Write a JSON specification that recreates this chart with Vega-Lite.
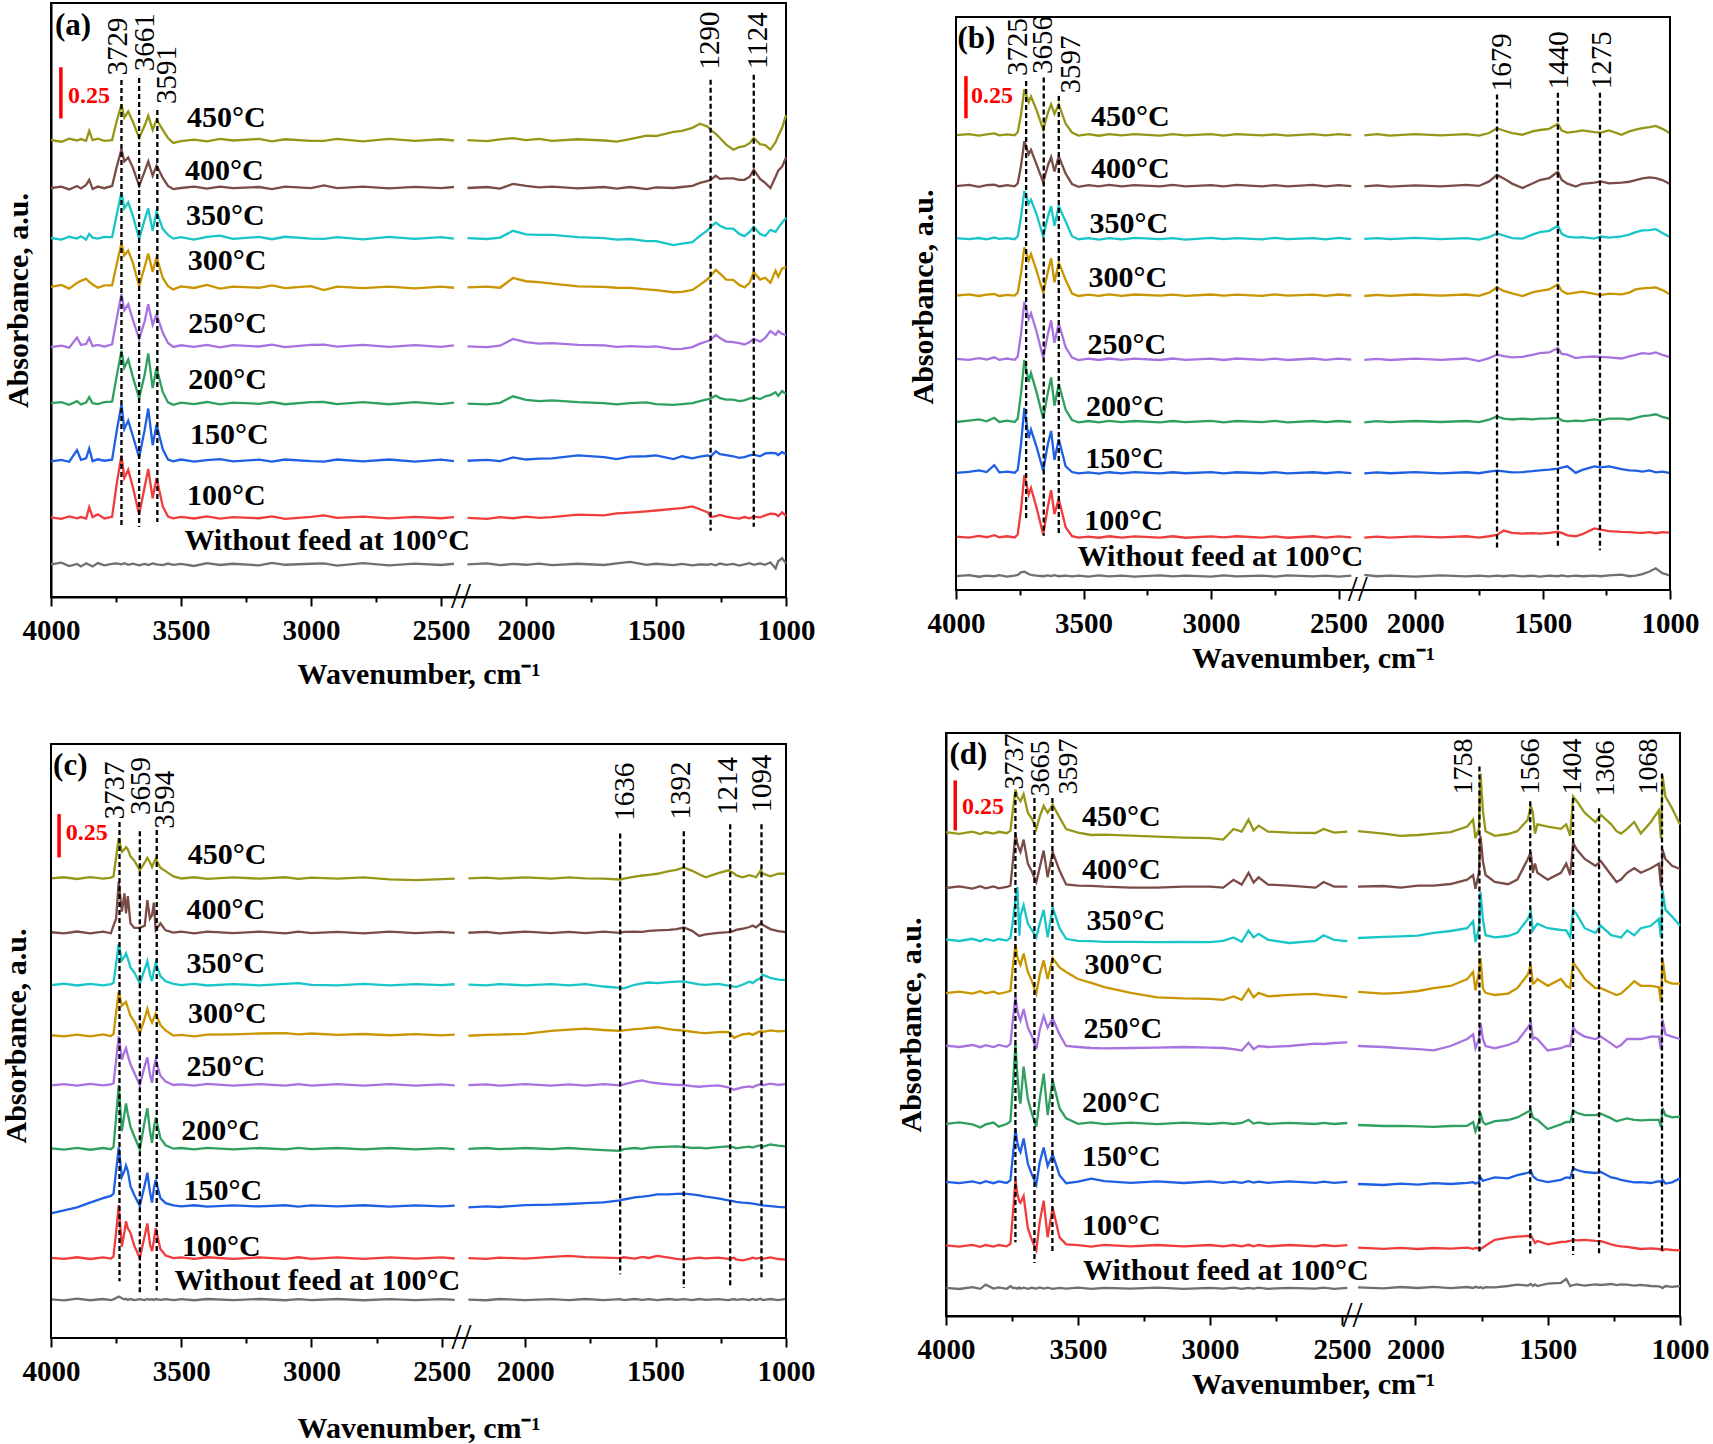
{
"$schema": "https://vega.github.io/schema/vega-lite/v6.json",
"background": "white",
"padding": {"left": 1, "top": 2, "right": 5, "bottom": 5},
"config": {
  "font": "Liberation Serif",
  "view": {"stroke": "black", "strokeWidth": 2},
  "axis": {"grid": false, "domainColor": "black", "domainWidth": 2, "tickColor": "black", "tickWidth": 2,
           "labelFont": "Liberation Serif", "labelFontSize": 29, "labelFontWeight": "bold", "labelColor": "black",
           "titleFont": "Liberation Serif", "titleFontSize": 30, "titleFontWeight": "bold", "titleColor": "black"}
},
"datasets": {
"a": [
{"x":4000,"seg":"L","w":0.160,"t100":0.390,"t150":0.665,"t200":0.950,"t250":1.225,"t300":1.520,"t350":1.760,"t400":2.005,"t450":2.240},
{"x":3960,"seg":"L","w":0.168,"t100":0.383,"t150":0.672,"t200":0.955,"t250":1.232,"t300":1.530,"t350":1.752,"t400":2.012,"t450":2.232},
{"x":3930,"seg":"L","w":0.152,"t100":0.395,"t150":0.663,"t200":0.942,"t250":1.222,"t300":1.512,"t350":1.766,"t400":1.998,"t450":2.247},
{"x":3900,"seg":"L","w":0.162,"t100":0.386,"t150":0.720,"t200":0.960,"t250":1.272,"t300":1.540,"t350":1.757,"t400":2.015,"t450":2.238},
{"x":3885,"seg":"L","w":0.150,"t100":0.392,"t150":0.672,"t200":0.944,"t250":1.236,"t300":1.550,"t350":1.768,"t400":2.003,"t450":2.245},
{"x":3865,"seg":"L","w":0.165,"t100":0.384,"t150":0.680,"t200":0.953,"t250":1.240,"t300":1.560,"t350":1.752,"t400":2.020,"t450":2.236},
{"x":3853,"seg":"L","w":0.158,"t100":0.440,"t150":0.728,"t200":0.980,"t250":1.270,"t300":1.545,"t350":1.780,"t400":2.045,"t450":2.285},
{"x":3840,"seg":"L","w":0.150,"t100":0.392,"t150":0.666,"t200":0.950,"t250":1.230,"t300":1.532,"t350":1.762,"t400":2.000,"t450":2.240},
{"x":3820,"seg":"L","w":0.166,"t100":0.405,"t150":0.675,"t200":0.946,"t250":1.236,"t300":1.516,"t350":1.757,"t400":2.012,"t450":2.247},
{"x":3795,"seg":"L","w":0.155,"t100":0.385,"t150":0.668,"t200":0.955,"t250":1.228,"t300":1.528,"t350":1.765,"t400":2.004,"t450":2.236},
{"x":3765,"seg":"L","w":0.162,"t100":0.393,"t150":0.673,"t200":0.958,"t250":1.239,"t300":1.528,"t350":1.764,"t400":2.015,"t450":2.240},
{"x":3748,"seg":"L","w":0.165,"t100":0.548,"t150":0.808,"t200":1.078,"t250":1.359,"t300":1.628,"t350":1.869,"t400":2.105,"t450":2.330},
{"x":3729,"seg":"L","w":0.160,"t100":0.694,"t150":0.944,"t200":1.208,"t250":1.485,"t300":1.734,"t350":1.985,"t400":2.195,"t450":2.414},
{"x":3718,"seg":"L","w":0.166,"t100":0.584,"t150":0.824,"t200":1.124,"t250":1.405,"t300":1.674,"t350":1.905,"t400":2.135,"t450":2.350},
{"x":3703,"seg":"L","w":0.158,"t100":0.624,"t150":0.864,"t200":1.164,"t250":1.435,"t300":1.698,"t350":1.935,"t400":2.155,"t450":2.380},
{"x":3685,"seg":"L","w":0.163,"t100":0.538,"t150":0.788,"t200":1.078,"t250":1.359,"t300":1.638,"t350":1.869,"t400":2.105,"t450":2.330},
{"x":3661,"seg":"L","w":0.155,"t100":0.404,"t150":0.684,"t200":0.974,"t250":1.265,"t300":1.524,"t350":1.755,"t400":2.015,"t450":2.250},
{"x":3640,"seg":"L","w":0.162,"t100":0.538,"t150":0.818,"t200":1.088,"t250":1.349,"t300":1.618,"t350":1.849,"t400":2.085,"t450":2.310},
{"x":3626,"seg":"L","w":0.157,"t100":0.628,"t150":0.924,"t200":1.194,"t250":1.435,"t300":1.684,"t350":1.905,"t400":2.135,"t450":2.360},
{"x":3609,"seg":"L","w":0.165,"t100":0.484,"t150":0.744,"t200":1.024,"t250":1.335,"t300":1.594,"t350":1.795,"t400":2.065,"t450":2.290},
{"x":3594,"seg":"L","w":0.160,"t100":0.584,"t150":0.844,"t200":1.124,"t250":1.385,"t300":1.668,"t350":1.889,"t400":2.115,"t450":2.340},
{"x":3570,"seg":"L","w":0.156,"t100":0.444,"t150":0.724,"t200":1.004,"t250":1.295,"t300":1.564,"t350":1.805,"t400":2.055,"t450":2.290},
{"x":3550,"seg":"L","w":0.164,"t100":0.394,"t150":0.674,"t200":0.954,"t250":1.245,"t300":1.524,"t350":1.775,"t400":2.015,"t450":2.250},
{"x":3530,"seg":"L","w":0.158,"t100":0.386,"t150":0.665,"t200":0.942,"t250":1.226,"t300":1.508,"t350":1.757,"t400":2.000,"t450":2.226},
{"x":3500,"seg":"L","w":0.162,"t100":0.393,"t150":0.674,"t200":0.953,"t250":1.234,"t300":1.523,"t350":1.764,"t400":2.005,"t450":2.235},
{"x":3450,"seg":"L","w":0.152,"t100":0.385,"t150":0.664,"t200":0.946,"t250":1.226,"t300":1.515,"t350":1.752,"t400":2.012,"t450":2.242},
{"x":3400,"seg":"L","w":0.166,"t100":0.395,"t150":0.671,"t200":0.956,"t250":1.236,"t300":1.530,"t350":1.766,"t400":2.002,"t450":2.234},
{"x":3350,"seg":"L","w":0.157,"t100":0.384,"t150":0.676,"t200":0.944,"t250":1.224,"t300":1.512,"t350":1.772,"t400":2.012,"t450":2.246},
{"x":3300,"seg":"L","w":0.163,"t100":0.392,"t150":0.665,"t200":0.953,"t250":1.235,"t300":1.522,"t350":1.756,"t400":2.004,"t450":2.238},
{"x":3200,"seg":"L","w":0.155,"t100":0.386,"t150":0.673,"t200":0.947,"t250":1.228,"t300":1.516,"t350":1.765,"t400":2.010,"t450":2.246},
{"x":3150,"seg":"L","w":0.167,"t100":0.395,"t150":0.664,"t200":0.956,"t250":1.237,"t300":1.528,"t350":1.754,"t400":2.000,"t450":2.234},
{"x":3100,"seg":"L","w":0.158,"t100":0.383,"t150":0.674,"t200":0.945,"t250":1.225,"t300":1.514,"t350":1.766,"t400":2.012,"t450":2.244},
{"x":3000,"seg":"L","w":0.163,"t100":0.393,"t150":0.666,"t200":0.955,"t250":1.236,"t300":1.524,"t350":1.757,"t400":2.004,"t450":2.236},
{"x":2950,"seg":"L","w":0.165,"t100":0.400,"t150":0.664,"t200":0.956,"t250":1.237,"t300":1.505,"t350":1.756,"t400":2.018,"t450":2.236},
{"x":2900,"seg":"L","w":0.154,"t100":0.388,"t150":0.674,"t200":0.946,"t250":1.227,"t300":1.522,"t350":1.764,"t400":2.004,"t450":2.246},
{"x":2800,"seg":"L","w":0.166,"t100":0.394,"t150":0.665,"t200":0.955,"t250":1.236,"t300":1.514,"t350":1.753,"t400":2.012,"t450":2.234},
{"x":2700,"seg":"L","w":0.155,"t100":0.385,"t150":0.674,"t200":0.945,"t250":1.226,"t300":1.522,"t350":1.765,"t400":2.003,"t450":2.246},
{"x":2600,"seg":"L","w":0.164,"t100":0.393,"t150":0.664,"t200":0.955,"t250":1.235,"t300":1.513,"t350":1.756,"t400":2.011,"t450":2.236},
{"x":2500,"seg":"L","w":0.157,"t100":0.386,"t150":0.673,"t200":0.946,"t250":1.226,"t300":1.522,"t350":1.764,"t400":2.004,"t450":2.244},
{"x":2450,"seg":"L","w":0.163,"t100":0.392,"t150":0.666,"t200":0.953,"t250":1.234,"t300":1.516,"t350":1.757,"t400":2.010,"t450":2.238},
{"x":2225,"seg":"R","w":0.160,"t100":0.388,"t150":0.668,"t200":0.948,"t250":1.229,"t300":1.518,"t350":1.759,"t400":2.005,"t450":2.240},
{"x":2150,"seg":"R","w":0.165,"t100":0.383,"t150":0.672,"t200":0.944,"t250":1.225,"t300":1.522,"t350":1.755,"t400":2.010,"t450":2.235},
{"x":2100,"seg":"R","w":0.156,"t100":0.392,"t150":0.666,"t200":0.952,"t250":1.232,"t300":1.516,"t350":1.762,"t400":2.002,"t450":2.243},
{"x":2050,"seg":"R","w":0.162,"t100":0.386,"t150":0.684,"t200":0.984,"t250":1.265,"t300":1.564,"t350":1.795,"t400":2.025,"t450":2.250},
{"x":2000,"seg":"R","w":0.158,"t100":0.394,"t150":0.674,"t200":0.966,"t250":1.250,"t300":1.548,"t350":1.778,"t400":2.015,"t450":2.240},
{"x":1950,"seg":"R","w":0.164,"t100":0.388,"t150":0.678,"t200":0.960,"t250":1.242,"t300":1.544,"t350":1.775,"t400":2.008,"t450":2.246},
{"x":1900,"seg":"R","w":0.156,"t100":0.392,"t150":0.680,"t200":0.964,"t250":1.245,"t300":1.536,"t350":1.775,"t400":2.012,"t450":2.236},
{"x":1800,"seg":"R","w":0.163,"t100":0.404,"t150":0.694,"t200":0.955,"t250":1.236,"t300":1.523,"t350":1.764,"t400":2.003,"t450":2.244},
{"x":1700,"seg":"R","w":0.157,"t100":0.400,"t150":0.686,"t200":0.950,"t250":1.234,"t300":1.520,"t350":1.759,"t400":2.010,"t450":2.238},
{"x":1651,"seg":"R","w":0.165,"t100":0.410,"t150":0.676,"t200":0.944,"t250":1.226,"t300":1.516,"t350":1.752,"t400":2.002,"t450":2.232},
{"x":1600,"seg":"R","w":0.172,"t100":0.414,"t150":0.688,"t200":0.950,"t250":1.230,"t300":1.515,"t350":1.755,"t400":2.010,"t450":2.245},
{"x":1536,"seg":"R","w":0.158,"t100":0.420,"t150":0.690,"t200":0.954,"t250":1.226,"t300":1.508,"t350":1.745,"t400":2.000,"t450":2.262},
{"x":1500,"seg":"R","w":0.163,"t100":0.424,"t150":0.694,"t200":0.946,"t250":1.229,"t300":1.504,"t350":1.745,"t400":2.008,"t450":2.260},
{"x":1433,"seg":"R","w":0.156,"t100":0.432,"t150":0.676,"t200":0.942,"t250":1.215,"t300":1.494,"t350":1.725,"t400":2.005,"t450":2.280},
{"x":1400,"seg":"R","w":0.162,"t100":0.436,"t150":0.690,"t200":0.946,"t250":1.216,"t300":1.496,"t350":1.732,"t400":2.010,"t450":2.285},
{"x":1360,"seg":"R","w":0.155,"t100":0.444,"t150":0.680,"t200":0.950,"t250":1.225,"t300":1.505,"t350":1.740,"t400":2.016,"t450":2.300},
{"x":1331,"seg":"R","w":0.160,"t100":0.430,"t150":0.688,"t200":0.960,"t250":1.242,"t300":1.530,"t350":1.770,"t400":2.030,"t450":2.320},
{"x":1300,"seg":"R","w":0.158,"t100":0.414,"t150":0.694,"t200":0.970,"t250":1.255,"t300":1.560,"t350":1.800,"t400":2.040,"t450":2.305},
{"x":1290,"seg":"R","w":0.162,"t100":0.392,"t150":0.688,"t200":0.974,"t250":1.260,"t300":1.574,"t350":1.815,"t400":2.045,"t450":2.290},
{"x":1270,"seg":"R","w":0.155,"t100":0.396,"t150":0.714,"t200":0.988,"t250":1.285,"t300":1.604,"t350":1.835,"t400":2.065,"t450":2.270},
{"x":1254,"seg":"R","w":0.164,"t100":0.402,"t150":0.700,"t200":0.975,"t250":1.270,"t300":1.585,"t350":1.820,"t400":2.050,"t450":2.250},
{"x":1230,"seg":"R","w":0.158,"t100":0.394,"t150":0.696,"t200":0.968,"t250":1.252,"t300":1.556,"t350":1.806,"t400":2.052,"t450":2.218},
{"x":1203,"seg":"R","w":0.162,"t100":0.388,"t150":0.690,"t200":0.968,"t250":1.249,"t300":1.555,"t350":1.806,"t400":2.052,"t450":2.193},
{"x":1180,"seg":"R","w":0.154,"t100":0.384,"t150":0.682,"t200":0.960,"t250":1.245,"t300":1.530,"t350":1.780,"t400":2.045,"t450":2.205},
{"x":1160,"seg":"R","w":0.160,"t100":0.392,"t150":0.686,"t200":0.964,"t250":1.238,"t300":1.518,"t350":1.769,"t400":2.045,"t450":2.210},
{"x":1140,"seg":"R","w":0.166,"t100":0.386,"t150":0.694,"t200":0.974,"t250":1.250,"t300":1.540,"t350":1.790,"t400":2.060,"t450":2.225},
{"x":1124,"seg":"R","w":0.158,"t100":0.394,"t150":0.698,"t200":0.978,"t250":1.266,"t300":1.593,"t350":1.815,"t400":2.095,"t450":2.250},
{"x":1100,"seg":"R","w":0.165,"t100":0.390,"t150":0.690,"t200":0.970,"t250":1.252,"t300":1.556,"t350":1.780,"t400":2.050,"t450":2.220},
{"x":1080,"seg":"R","w":0.158,"t100":0.400,"t150":0.704,"t200":0.984,"t250":1.270,"t300":1.565,"t350":1.770,"t400":2.030,"t450":2.215},
{"x":1060,"seg":"R","w":0.170,"t100":0.408,"t150":0.706,"t200":0.990,"t250":1.304,"t300":1.540,"t350":1.800,"t400":2.005,"t450":2.193},
{"x":1040,"seg":"R","w":0.140,"t100":0.406,"t150":0.705,"t200":1.004,"t250":1.285,"t300":1.600,"t350":1.790,"t400":2.060,"t450":2.230},
{"x":1030,"seg":"R","w":0.175,"t100":0.396,"t150":0.696,"t200":0.986,"t250":1.304,"t300":1.570,"t350":1.810,"t400":2.090,"t450":2.260},
{"x":1015,"seg":"R","w":0.190,"t100":0.415,"t150":0.710,"t200":1.010,"t250":1.290,"t300":1.610,"t350":1.835,"t400":2.110,"t450":2.300},
{"x":1000,"seg":"R","w":0.165,"t100":0.398,"t150":0.700,"t200":0.995,"t250":1.285,"t300":1.618,"t350":1.859,"t400":2.155,"t450":2.362}
],
"a_rules": [
{"kind":"peak","x":3729,"y":2.534,"y2":0.353},
{"kind":"peak","x":3661,"y":2.544,"y2":0.343},
{"kind":"peak","x":3591,"y":2.387,"y2":0.368},
{"kind":"peak","x":1290,"y":2.536,"y2":0.325},
{"kind":"peak","x":1124,"y":2.56,"y2":0.344},
{"kind":"bar","x":3962,"y":2.597,"y2":2.346}
],
"a_txt": [
{"kind":"temp","x":3477,"y":2.348,"label":"450°C"},
{"kind":"temp","x":3485,"y":2.088,"label":"400°C"},
{"kind":"temp","x":3481,"y":1.868,"label":"350°C"},
{"kind":"temp","x":3474,"y":1.647,"label":"300°C"},
{"kind":"temp","x":3472,"y":1.338,"label":"250°C"},
{"kind":"temp","x":3472,"y":1.064,"label":"200°C"},
{"kind":"temp","x":3465,"y":0.794,"label":"150°C"},
{"kind":"temp","x":3477,"y":0.495,"label":"100°C"},
{"kind":"temp","x":3487,"y":0.275,"label":"Without feed at 100°C"},
{"kind":"peak","x":3741,"y":2.556,"label":"3729"},
{"kind":"peak","x":3638,"y":2.578,"label":"3661"},
{"kind":"peak","x":3555,"y":2.417,"label":"3591"},
{"kind":"peak","x":1292,"y":2.586,"label":"1290"},
{"kind":"peak","x":1106,"y":2.588,"label":"1124"},
{"kind":"letter","x":3985,"y":2.797,"label":"(a)"},
{"kind":"scale","x":3935,"y":2.456,"label":"0.25"},
{"kind":"break","x":2335,"y":0,"label":"//"}
],
"b": [
{"x":4000,"seg":"L","w":0.083,"t100":0.318,"t150":0.697,"t200":1.000,"t250":1.376,"t300":1.752,"t350":2.094,"t400":2.404,"t450":2.708},
{"x":3950,"seg":"L","w":0.088,"t100":0.312,"t150":0.703,"t200":1.008,"t250":1.370,"t300":1.760,"t350":2.088,"t400":2.411,"t450":2.714},
{"x":3910,"seg":"L","w":0.079,"t100":0.322,"t150":0.712,"t200":1.015,"t250":1.380,"t300":1.750,"t350":2.095,"t400":2.400,"t450":2.705},
{"x":3880,"seg":"L","w":0.086,"t100":0.314,"t150":0.702,"t200":1.004,"t250":1.372,"t300":1.758,"t350":2.087,"t400":2.410,"t450":2.712},
{"x":3850,"seg":"L","w":0.082,"t100":0.326,"t150":0.743,"t200":1.025,"t250":1.385,"t300":1.762,"t350":2.098,"t400":2.412,"t450":2.718},
{"x":3830,"seg":"L","w":0.088,"t100":0.314,"t150":0.700,"t200":1.000,"t250":1.370,"t300":1.750,"t350":2.090,"t400":2.402,"t450":2.706},
{"x":3800,"seg":"L","w":0.080,"t100":0.320,"t150":0.705,"t200":1.008,"t250":1.378,"t300":1.757,"t350":2.094,"t400":2.410,"t450":2.712},
{"x":3770,"seg":"L","w":0.086,"t100":0.313,"t150":0.698,"t200":1.000,"t250":1.370,"t300":1.752,"t350":2.088,"t400":2.403,"t450":2.707},
{"x":3758,"seg":"L","w":0.090,"t100":0.330,"t150":0.715,"t200":1.020,"t250":1.390,"t300":1.770,"t350":2.105,"t400":2.420,"t450":2.725},
{"x":3745,"seg":"L","w":0.105,"t100":0.480,"t150":0.870,"t200":1.170,"t250":1.525,"t300":1.885,"t350":2.220,"t400":2.525,"t450":2.830},
{"x":3732,"seg":"L","w":0.109,"t100":0.684,"t150":1.084,"t200":1.369,"t250":1.716,"t300":2.039,"t350":2.375,"t400":2.672,"t450":2.981},
{"x":3715,"seg":"L","w":0.095,"t100":0.568,"t150":0.904,"t200":1.239,"t250":1.613,"t300":1.962,"t350":2.298,"t400":2.594,"t450":2.904},
{"x":3706,"seg":"L","w":0.090,"t100":0.607,"t150":0.955,"t200":1.291,"t250":1.647,"t300":2.000,"t350":2.323,"t400":2.620,"t450":2.937},
{"x":3685,"seg":"L","w":0.085,"t100":0.495,"t150":0.857,"t200":1.182,"t250":1.543,"t300":1.905,"t350":2.241,"t400":2.536,"t450":2.860},
{"x":3658,"seg":"L","w":0.082,"t100":0.330,"t150":0.710,"t200":1.020,"t250":1.381,"t300":1.768,"t350":2.104,"t400":2.427,"t450":2.741},
{"x":3640,"seg":"L","w":0.087,"t100":0.495,"t150":0.867,"t200":1.172,"t250":1.523,"t300":1.895,"t350":2.221,"t400":2.526,"t450":2.840},
{"x":3627,"seg":"L","w":0.083,"t100":0.594,"t150":0.947,"t200":1.265,"t250":1.605,"t300":1.974,"t350":2.285,"t400":2.576,"t450":2.891},
{"x":3614,"seg":"L","w":0.088,"t100":0.452,"t150":0.774,"t200":1.097,"t250":1.471,"t300":1.832,"t350":2.168,"t400":2.491,"t450":2.834},
{"x":3597,"seg":"L","w":0.082,"t100":0.542,"t150":0.898,"t200":1.227,"t250":1.587,"t300":1.949,"t350":2.285,"t400":2.582,"t450":2.891},
{"x":3570,"seg":"L","w":0.086,"t100":0.374,"t150":0.736,"t200":1.072,"t250":1.445,"t300":1.845,"t350":2.194,"t400":2.478,"t450":2.775},
{"x":3545,"seg":"L","w":0.081,"t100":0.320,"t150":0.702,"t200":1.012,"t250":1.383,"t300":1.765,"t350":2.106,"t400":2.416,"t450":2.723},
{"x":3520,"seg":"L","w":0.085,"t100":0.312,"t150":0.694,"t200":0.998,"t250":1.368,"t300":1.750,"t350":2.088,"t400":2.400,"t450":2.705},
{"x":3480,"seg":"L","w":0.080,"t100":0.318,"t150":0.700,"t200":1.006,"t250":1.377,"t300":1.758,"t350":2.095,"t400":2.410,"t450":2.713},
{"x":3440,"seg":"L","w":0.087,"t100":0.311,"t150":0.693,"t200":0.998,"t250":1.369,"t300":1.751,"t350":2.086,"t400":2.402,"t450":2.704},
{"x":3400,"seg":"L","w":0.081,"t100":0.320,"t150":0.701,"t200":1.007,"t250":1.378,"t300":1.760,"t350":2.095,"t400":2.411,"t450":2.714},
{"x":3350,"seg":"L","w":0.086,"t100":0.312,"t150":0.694,"t200":0.999,"t250":1.370,"t300":1.751,"t350":2.087,"t400":2.402,"t450":2.706},
{"x":3300,"seg":"L","w":0.080,"t100":0.319,"t150":0.702,"t200":1.006,"t250":1.377,"t300":1.759,"t350":2.096,"t400":2.410,"t450":2.713},
{"x":3200,"seg":"L","w":0.087,"t100":0.312,"t150":0.694,"t200":0.998,"t250":1.369,"t300":1.752,"t350":2.088,"t400":2.403,"t450":2.705},
{"x":3150,"seg":"L","w":0.081,"t100":0.320,"t150":0.701,"t200":1.006,"t250":1.378,"t300":1.758,"t350":2.095,"t400":2.411,"t450":2.714},
{"x":3100,"seg":"L","w":0.086,"t100":0.311,"t150":0.695,"t200":0.999,"t250":1.370,"t300":1.751,"t350":2.086,"t400":2.402,"t450":2.706},
{"x":3000,"seg":"L","w":0.080,"t100":0.319,"t150":0.702,"t200":1.007,"t250":1.377,"t300":1.759,"t350":2.096,"t400":2.410,"t450":2.713},
{"x":2950,"seg":"L","w":0.087,"t100":0.313,"t150":0.694,"t200":0.998,"t250":1.369,"t300":1.752,"t350":2.088,"t400":2.403,"t450":2.705},
{"x":2900,"seg":"L","w":0.081,"t100":0.320,"t150":0.701,"t200":1.006,"t250":1.378,"t300":1.758,"t350":2.095,"t400":2.411,"t450":2.714},
{"x":2800,"seg":"L","w":0.086,"t100":0.312,"t150":0.695,"t200":0.999,"t250":1.370,"t300":1.751,"t350":2.087,"t400":2.402,"t450":2.706},
{"x":2750,"seg":"L","w":0.080,"t100":0.319,"t150":0.702,"t200":1.007,"t250":1.377,"t300":1.760,"t350":2.096,"t400":2.410,"t450":2.712},
{"x":2700,"seg":"L","w":0.087,"t100":0.311,"t150":0.694,"t200":0.998,"t250":1.369,"t300":1.752,"t350":2.088,"t400":2.403,"t450":2.705},
{"x":2600,"seg":"L","w":0.081,"t100":0.320,"t150":0.701,"t200":1.006,"t250":1.378,"t300":1.758,"t350":2.095,"t400":2.411,"t450":2.714},
{"x":2550,"seg":"L","w":0.086,"t100":0.312,"t150":0.695,"t200":0.999,"t250":1.370,"t300":1.751,"t350":2.087,"t400":2.402,"t450":2.706},
{"x":2500,"seg":"L","w":0.080,"t100":0.319,"t150":0.702,"t200":1.006,"t250":1.377,"t300":1.759,"t350":2.096,"t400":2.410,"t450":2.713},
{"x":2450,"seg":"L","w":0.085,"t100":0.313,"t150":0.696,"t200":1.000,"t250":1.371,"t300":1.753,"t350":2.089,"t400":2.404,"t450":2.707},
{"x":2200,"seg":"R","w":0.090,"t100":0.312,"t150":0.694,"t200":0.998,"t250":1.370,"t300":1.750,"t350":2.090,"t400":2.402,"t450":2.706},
{"x":2150,"seg":"R","w":0.082,"t100":0.318,"t150":0.700,"t200":1.005,"t250":1.376,"t300":1.757,"t350":2.095,"t400":2.409,"t450":2.713},
{"x":2100,"seg":"R","w":0.086,"t100":0.312,"t150":0.695,"t200":0.999,"t250":1.369,"t300":1.751,"t350":2.088,"t400":2.401,"t450":2.705},
{"x":2000,"seg":"R","w":0.080,"t100":0.319,"t150":0.702,"t200":1.006,"t250":1.377,"t300":1.759,"t350":2.096,"t400":2.409,"t450":2.713},
{"x":1900,"seg":"R","w":0.087,"t100":0.313,"t150":0.694,"t200":1.000,"t250":1.370,"t300":1.752,"t350":2.088,"t400":2.403,"t450":2.706},
{"x":1800,"seg":"R","w":0.081,"t100":0.320,"t150":0.701,"t200":1.006,"t250":1.378,"t300":1.759,"t350":2.095,"t400":2.411,"t450":2.714},
{"x":1750,"seg":"R","w":0.086,"t100":0.312,"t150":0.695,"t200":0.999,"t250":1.363,"t300":1.751,"t350":2.086,"t400":2.405,"t450":2.705},
{"x":1710,"seg":"R","w":0.081,"t100":0.320,"t150":0.704,"t200":1.014,"t250":1.380,"t300":1.770,"t350":2.100,"t400":2.432,"t450":2.720},
{"x":1679,"seg":"R","w":0.086,"t100":0.328,"t150":0.710,"t200":1.033,"t250":1.401,"t300":1.801,"t350":2.122,"t400":2.471,"t450":2.749},
{"x":1653,"seg":"R","w":0.082,"t100":0.354,"t150":0.706,"t200":1.020,"t250":1.392,"t300":1.780,"t350":2.110,"t400":2.450,"t450":2.735},
{"x":1620,"seg":"R","w":0.087,"t100":0.340,"t150":0.700,"t200":1.015,"t250":1.385,"t300":1.765,"t350":2.095,"t400":2.419,"t450":2.720},
{"x":1579,"seg":"R","w":0.081,"t100":0.336,"t150":0.702,"t200":1.020,"t250":1.388,"t300":1.750,"t350":2.091,"t400":2.393,"t450":2.710},
{"x":1540,"seg":"R","w":0.086,"t100":0.338,"t150":0.707,"t200":1.016,"t250":1.400,"t300":1.772,"t350":2.115,"t400":2.420,"t450":2.730},
{"x":1511,"seg":"R","w":0.080,"t100":0.336,"t150":0.712,"t200":1.020,"t250":1.410,"t300":1.780,"t350":2.130,"t400":2.440,"t450":2.738},
{"x":1474,"seg":"R","w":0.086,"t100":0.340,"t150":0.716,"t200":1.022,"t250":1.414,"t300":1.789,"t350":2.138,"t400":2.452,"t450":2.745},
{"x":1440,"seg":"R","w":0.082,"t100":0.346,"t150":0.723,"t200":1.025,"t250":1.440,"t300":1.820,"t350":2.168,"t400":2.489,"t450":2.775},
{"x":1425,"seg":"R","w":0.087,"t100":0.340,"t150":0.728,"t200":1.010,"t250":1.405,"t300":1.780,"t350":2.120,"t400":2.440,"t450":2.735},
{"x":1403,"seg":"R","w":0.081,"t100":0.325,"t150":0.736,"t200":1.004,"t250":1.401,"t300":1.763,"t350":2.104,"t400":2.419,"t450":2.723},
{"x":1370,"seg":"R","w":0.086,"t100":0.320,"t150":0.697,"t200":1.008,"t250":1.380,"t300":1.770,"t350":2.098,"t400":2.401,"t450":2.728},
{"x":1344,"seg":"R","w":0.082,"t100":0.332,"t150":0.715,"t200":1.005,"t250":1.386,"t300":1.776,"t350":2.100,"t400":2.418,"t450":2.736},
{"x":1297,"seg":"R","w":0.086,"t100":0.367,"t150":0.736,"t200":1.015,"t250":1.390,"t300":1.762,"t350":2.092,"t400":2.425,"t450":2.725},
{"x":1272,"seg":"R","w":0.082,"t100":0.360,"t150":0.730,"t200":1.010,"t250":1.388,"t300":1.755,"t350":2.104,"t400":2.432,"t450":2.723},
{"x":1239,"seg":"R","w":0.087,"t100":0.350,"t150":0.736,"t200":1.020,"t250":1.385,"t300":1.764,"t350":2.098,"t400":2.420,"t450":2.736},
{"x":1190,"seg":"R","w":0.091,"t100":0.346,"t150":0.720,"t200":1.020,"t250":1.378,"t300":1.760,"t350":2.105,"t400":2.425,"t450":2.710},
{"x":1160,"seg":"R","w":0.082,"t100":0.345,"t150":0.712,"t200":1.015,"t250":1.390,"t300":1.770,"t350":2.115,"t400":2.430,"t450":2.730},
{"x":1135,"seg":"R","w":0.086,"t100":0.342,"t150":0.710,"t200":1.025,"t250":1.400,"t300":1.789,"t350":2.130,"t400":2.440,"t450":2.740},
{"x":1108,"seg":"R","w":0.095,"t100":0.340,"t150":0.705,"t200":1.035,"t250":1.410,"t300":1.795,"t350":2.140,"t400":2.450,"t450":2.749},
{"x":1080,"seg":"R","w":0.110,"t100":0.345,"t150":0.712,"t200":1.040,"t250":1.405,"t300":1.798,"t350":2.142,"t400":2.456,"t450":2.755},
{"x":1056,"seg":"R","w":0.129,"t100":0.338,"t150":0.700,"t200":1.046,"t250":1.414,"t300":1.801,"t350":2.148,"t400":2.452,"t450":2.762},
{"x":1030,"seg":"R","w":0.100,"t100":0.345,"t150":0.705,"t200":1.030,"t250":1.400,"t300":1.785,"t350":2.125,"t400":2.440,"t450":2.745},
{"x":1004,"seg":"R","w":0.088,"t100":0.341,"t150":0.697,"t200":1.020,"t250":1.388,"t300":1.763,"t350":2.104,"t400":2.419,"t450":2.723},
{"x":1000,"seg":"R","w":0.083,"t100":0.340,"t150":0.700,"t200":1.015,"t250":1.385,"t300":1.760,"t350":2.100,"t400":2.415,"t450":2.715}
],
"b_rules": [
{"kind":"peak","x":3725,"y":3.03,"y2":0.426},
{"kind":"peak","x":3656,"y":3.05,"y2":0.323},
{"kind":"peak","x":3597,"y":2.94,"y2":0.336},
{"kind":"peak","x":1679,"y":2.95,"y2":0.245},
{"kind":"peak","x":1440,"y":2.96,"y2":0.245},
{"kind":"peak","x":1275,"y":2.96,"y2":0.237},
{"kind":"bar","x":3961,"y":3.059,"y2":2.808},
{"kind":"frame","x":4000,"x2":4000,"y":0,"y2":3.411},
{"kind":"frame","x":1000,"x2":1000,"y":0,"y2":3.411},
{"kind":"frame","x":4000,"x2":1000,"y":3.411,"y2":3.411},
{"kind":"frame","x":4000,"x2":1000,"y":0,"y2":0}
],
"b_txt": [
{"kind":"temp","x":3471,"y":2.814,"label":"450°C"},
{"kind":"temp","x":3471,"y":2.504,"label":"400°C"},
{"kind":"temp","x":3477,"y":2.181,"label":"350°C"},
{"kind":"temp","x":3480,"y":1.859,"label":"300°C"},
{"kind":"temp","x":3484,"y":1.458,"label":"250°C"},
{"kind":"temp","x":3490,"y":1.089,"label":"200°C"},
{"kind":"temp","x":3493,"y":0.780,"label":"150°C"},
{"kind":"temp","x":3497,"y":0.413,"label":"100°C"},
{"kind":"temp","x":3523,"y":0.194,"label":"Without feed at 100°C"},
{"kind":"peak","x":3758,"y":3.059,"label":"3725"},
{"kind":"peak","x":3658,"y":3.072,"label":"3656"},
{"kind":"peak","x":3549,"y":2.956,"label":"3597"},
{"kind":"peak","x":1658,"y":2.969,"label":"1679"},
{"kind":"peak","x":1435,"y":2.981,"label":"1440"},
{"kind":"peak","x":1265,"y":2.981,"label":"1275"},
{"kind":"letter","x":3994,"y":3.278,"label":"(b)"},
{"kind":"scale","x":3941,"y":2.943,"label":"0.25"},
{"kind":"break","x":2325,"y":0,"label":"//"}
],
"c": [
{"x":4000,"seg":"L","w":0.222,"t100":0.461,"t150":0.716,"t200":1.090,"t250":1.452,"t300":1.740,"t350":2.028,"t400":2.332,"t450":2.641},
{"x":3950,"seg":"L","w":0.216,"t100":0.455,"t150":0.734,"t200":1.083,"t250":1.459,"t300":1.733,"t350":2.036,"t400":2.325,"t450":2.648},
{"x":3900,"seg":"L","w":0.226,"t100":0.464,"t150":0.751,"t200":1.093,"t250":1.450,"t300":1.744,"t350":2.026,"t400":2.336,"t450":2.638},
{"x":3850,"seg":"L","w":0.217,"t100":0.454,"t150":0.778,"t200":1.082,"t250":1.460,"t300":1.734,"t350":2.035,"t400":2.326,"t450":2.649},
{"x":3800,"seg":"L","w":0.224,"t100":0.463,"t150":0.804,"t200":1.092,"t250":1.452,"t300":1.745,"t350":2.027,"t400":2.335,"t450":2.640},
{"x":3770,"seg":"L","w":0.218,"t100":0.456,"t150":0.817,"t200":1.085,"t250":1.458,"t300":1.735,"t350":2.034,"t400":2.326,"t450":2.646},
{"x":3760,"seg":"L","w":0.222,"t100":0.469,"t150":0.830,"t200":1.098,"t250":1.464,"t300":1.748,"t350":2.040,"t400":2.370,"t450":2.653},
{"x":3750,"seg":"L","w":0.230,"t100":0.609,"t150":0.960,"t200":1.268,"t250":1.594,"t300":1.868,"t350":2.150,"t400":2.410,"t450":2.763},
{"x":3740,"seg":"L","w":0.238,"t100":0.764,"t150":1.096,"t200":1.454,"t250":1.733,"t300":1.990,"t350":2.263,"t400":2.622,"t450":2.874},
{"x":3728,"seg":"L","w":0.228,"t100":0.525,"t150":0.926,"t200":1.189,"t250":1.600,"t300":1.910,"t350":2.171,"t400":2.450,"t450":2.794},
{"x":3718,"seg":"L","w":0.222,"t100":0.609,"t150":0.960,"t200":1.288,"t250":1.644,"t300":1.923,"t350":2.190,"t400":2.555,"t450":2.808},
{"x":3712,"seg":"L","w":0.225,"t100":0.671,"t150":0.992,"t200":1.348,"t250":1.666,"t300":1.932,"t350":2.210,"t400":2.440,"t450":2.821},
{"x":3705,"seg":"L","w":0.219,"t100":0.629,"t150":0.960,"t200":1.288,"t250":1.624,"t300":1.898,"t350":2.180,"t400":2.540,"t450":2.808},
{"x":3695,"seg":"L","w":0.224,"t100":0.605,"t150":0.873,"t200":1.215,"t250":1.573,"t300":1.852,"t350":2.130,"t400":2.383,"t450":2.768},
{"x":3680,"seg":"L","w":0.218,"t100":0.529,"t150":0.820,"t200":1.158,"t250":1.524,"t300":1.818,"t350":2.100,"t400":2.357,"t450":2.743},
{"x":3659,"seg":"L","w":0.223,"t100":0.459,"t150":0.759,"t200":1.083,"t250":1.454,"t300":1.751,"t350":2.038,"t400":2.357,"t450":2.688},
{"x":3640,"seg":"L","w":0.218,"t100":0.589,"t150":0.880,"t200":1.248,"t250":1.564,"t300":1.838,"t350":2.120,"t400":2.370,"t450":2.733},
{"x":3630,"seg":"L","w":0.224,"t100":0.658,"t150":0.950,"t200":1.321,"t250":1.613,"t300":1.892,"t350":2.165,"t400":2.516,"t450":2.760},
{"x":3620,"seg":"L","w":0.219,"t100":0.539,"t150":0.840,"t200":1.188,"t250":1.514,"t300":1.838,"t350":2.090,"t400":2.410,"t450":2.733},
{"x":3612,"seg":"L","w":0.223,"t100":0.499,"t150":0.778,"t200":1.122,"t250":1.467,"t300":1.812,"t350":2.051,"t400":2.430,"t450":2.707},
{"x":3605,"seg":"L","w":0.218,"t100":0.559,"t150":0.860,"t200":1.208,"t250":1.554,"t300":1.838,"t350":2.110,"t400":2.502,"t450":2.733},
{"x":3598,"seg":"L","w":0.224,"t100":0.631,"t150":0.910,"t200":1.268,"t250":1.600,"t300":1.865,"t350":2.157,"t400":2.343,"t450":2.754},
{"x":3580,"seg":"L","w":0.219,"t100":0.512,"t150":0.804,"t200":1.149,"t250":1.507,"t300":1.799,"t350":2.080,"t400":2.383,"t450":2.703},
{"x":3560,"seg":"L","w":0.223,"t100":0.474,"t150":0.775,"t200":1.108,"t250":1.474,"t300":1.768,"t350":2.050,"t400":2.343,"t450":2.683},
{"x":3530,"seg":"L","w":0.218,"t100":0.459,"t150":0.762,"t200":1.088,"t250":1.454,"t300":1.738,"t350":2.035,"t400":2.330,"t450":2.653},
{"x":3500,"seg":"L","w":0.223,"t100":0.463,"t150":0.757,"t200":1.092,"t250":1.458,"t300":1.742,"t350":2.028,"t400":2.335,"t450":2.641},
{"x":3450,"seg":"L","w":0.217,"t100":0.455,"t150":0.763,"t200":1.084,"t250":1.450,"t300":1.734,"t350":2.035,"t400":2.326,"t450":2.648},
{"x":3400,"seg":"L","w":0.224,"t100":0.464,"t150":0.755,"t200":1.093,"t250":1.460,"t300":1.743,"t350":2.026,"t400":2.336,"t450":2.639},
{"x":3300,"seg":"L","w":0.218,"t100":0.455,"t150":0.762,"t200":1.084,"t250":1.451,"t300":1.745,"t350":2.034,"t400":2.327,"t450":2.647},
{"x":3200,"seg":"L","w":0.224,"t100":0.463,"t150":0.756,"t200":1.092,"t250":1.459,"t300":1.750,"t350":2.027,"t400":2.335,"t450":2.640},
{"x":3100,"seg":"L","w":0.217,"t100":0.455,"t150":0.763,"t200":1.084,"t250":1.450,"t300":1.752,"t350":2.035,"t400":2.326,"t450":2.648},
{"x":3050,"seg":"L","w":0.223,"t100":0.464,"t150":0.755,"t200":1.093,"t250":1.459,"t300":1.745,"t350":2.040,"t400":2.336,"t450":2.639},
{"x":3000,"seg":"L","w":0.218,"t100":0.455,"t150":0.762,"t200":1.085,"t250":1.451,"t300":1.750,"t350":2.030,"t400":2.327,"t450":2.646},
{"x":2900,"seg":"L","w":0.224,"t100":0.463,"t150":0.756,"t200":1.092,"t250":1.459,"t300":1.742,"t350":2.027,"t400":2.334,"t450":2.640},
{"x":2800,"seg":"L","w":0.217,"t100":0.455,"t150":0.763,"t200":1.084,"t250":1.450,"t300":1.747,"t350":2.035,"t400":2.326,"t450":2.647},
{"x":2700,"seg":"L","w":0.223,"t100":0.463,"t150":0.755,"t200":1.092,"t250":1.459,"t300":1.740,"t350":2.027,"t400":2.335,"t450":2.636},
{"x":2600,"seg":"L","w":0.218,"t100":0.456,"t150":0.762,"t200":1.084,"t250":1.451,"t300":1.746,"t350":2.034,"t400":2.327,"t450":2.631},
{"x":2500,"seg":"L","w":0.223,"t100":0.463,"t150":0.756,"t200":1.091,"t250":1.458,"t300":1.739,"t350":2.028,"t400":2.334,"t450":2.637},
{"x":2450,"seg":"L","w":0.219,"t100":0.457,"t150":0.761,"t200":1.085,"t250":1.452,"t300":1.744,"t350":2.033,"t400":2.328,"t450":2.640},
{"x":2218,"seg":"R","w":0.221,"t100":0.459,"t150":0.751,"t200":1.087,"t250":1.453,"t300":1.737,"t350":2.031,"t400":2.329,"t450":2.641},
{"x":2150,"seg":"R","w":0.217,"t100":0.455,"t150":0.756,"t200":1.092,"t250":1.458,"t300":1.742,"t350":2.027,"t400":2.334,"t450":2.646},
{"x":2100,"seg":"R","w":0.224,"t100":0.462,"t150":0.753,"t200":1.085,"t250":1.450,"t300":1.744,"t350":2.034,"t400":2.326,"t450":2.640},
{"x":2000,"seg":"R","w":0.218,"t100":0.456,"t150":0.764,"t200":1.092,"t250":1.459,"t300":1.748,"t350":2.027,"t400":2.335,"t450":2.647},
{"x":1900,"seg":"R","w":0.223,"t100":0.466,"t150":0.766,"t200":1.085,"t250":1.451,"t300":1.765,"t350":2.034,"t400":2.327,"t450":2.640},
{"x":1833,"seg":"R","w":0.218,"t100":0.472,"t150":0.770,"t200":1.092,"t250":1.458,"t300":1.772,"t350":2.027,"t400":2.334,"t450":2.647},
{"x":1769,"seg":"R","w":0.224,"t100":0.465,"t150":0.775,"t200":1.086,"t250":1.451,"t300":1.778,"t350":2.034,"t400":2.327,"t450":2.641},
{"x":1700,"seg":"R","w":0.218,"t100":0.462,"t150":0.780,"t200":1.080,"t250":1.459,"t300":1.770,"t350":2.020,"t400":2.335,"t450":2.640},
{"x":1636,"seg":"R","w":0.223,"t100":0.459,"t150":0.791,"t200":1.075,"t250":1.452,"t300":1.765,"t350":2.012,"t400":2.328,"t450":2.635},
{"x":1622,"seg":"R","w":0.218,"t100":0.464,"t150":0.796,"t200":1.085,"t250":1.458,"t300":1.768,"t350":2.009,"t400":2.334,"t450":2.640},
{"x":1580,"seg":"R","w":0.224,"t100":0.456,"t150":0.808,"t200":1.092,"t250":1.474,"t300":1.775,"t350":2.030,"t400":2.336,"t450":2.652},
{"x":1551,"seg":"R","w":0.219,"t100":0.466,"t150":0.812,"t200":1.087,"t250":1.481,"t300":1.778,"t350":2.038,"t400":2.334,"t450":2.658},
{"x":1526,"seg":"R","w":0.223,"t100":0.460,"t150":0.817,"t200":1.094,"t250":1.470,"t300":1.782,"t350":2.043,"t400":2.340,"t450":2.662},
{"x":1494,"seg":"R","w":0.218,"t100":0.472,"t150":0.825,"t200":1.097,"t250":1.464,"t300":1.786,"t350":2.040,"t400":2.343,"t450":2.668},
{"x":1449,"seg":"R","w":0.224,"t100":0.462,"t150":0.826,"t200":1.100,"t250":1.458,"t300":1.775,"t350":2.045,"t400":2.345,"t450":2.683},
{"x":1420,"seg":"R","w":0.219,"t100":0.455,"t150":0.828,"t200":1.101,"t250":1.455,"t300":1.770,"t350":2.048,"t400":2.350,"t450":2.690},
{"x":1392,"seg":"R","w":0.223,"t100":0.451,"t150":0.830,"t200":1.098,"t250":1.454,"t300":1.767,"t350":2.049,"t400":2.359,"t450":2.704},
{"x":1360,"seg":"R","w":0.218,"t100":0.457,"t150":0.826,"t200":1.092,"t250":1.448,"t300":1.760,"t350":2.040,"t400":2.340,"t450":2.685},
{"x":1333,"seg":"R","w":0.224,"t100":0.462,"t150":0.820,"t200":1.094,"t250":1.444,"t300":1.755,"t350":2.032,"t400":2.311,"t450":2.665},
{"x":1308,"seg":"R","w":0.219,"t100":0.458,"t150":0.812,"t200":1.090,"t250":1.448,"t300":1.752,"t350":2.030,"t400":2.320,"t450":2.648},
{"x":1260,"seg":"R","w":0.223,"t100":0.462,"t150":0.802,"t200":1.097,"t250":1.452,"t300":1.758,"t350":2.035,"t400":2.328,"t450":2.672},
{"x":1221,"seg":"R","w":0.218,"t100":0.455,"t150":0.791,"t200":1.101,"t250":1.441,"t300":1.759,"t350":2.025,"t400":2.333,"t450":2.688},
{"x":1199,"seg":"R","w":0.224,"t100":0.461,"t150":0.785,"t200":1.095,"t250":1.427,"t300":1.725,"t350":2.020,"t400":2.340,"t450":2.670},
{"x":1192,"seg":"R","w":0.219,"t100":0.452,"t150":0.782,"t200":1.090,"t250":1.430,"t300":1.730,"t350":2.017,"t400":2.345,"t450":2.660},
{"x":1167,"seg":"R","w":0.223,"t100":0.446,"t150":0.778,"t200":1.095,"t250":1.440,"t300":1.745,"t350":2.030,"t400":2.352,"t450":2.648},
{"x":1140,"seg":"R","w":0.218,"t100":0.455,"t150":0.775,"t200":1.100,"t250":1.446,"t300":1.750,"t350":2.049,"t400":2.362,"t450":2.660},
{"x":1128,"seg":"R","w":0.224,"t100":0.462,"t150":0.772,"t200":1.094,"t250":1.441,"t300":1.742,"t350":2.040,"t400":2.370,"t450":2.655},
{"x":1115,"seg":"R","w":0.219,"t100":0.456,"t150":0.769,"t200":1.102,"t250":1.450,"t300":1.752,"t350":2.055,"t400":2.360,"t450":2.648},
{"x":1096,"seg":"R","w":0.225,"t100":0.462,"t150":0.764,"t200":1.108,"t250":1.459,"t300":1.765,"t350":2.070,"t400":2.383,"t450":2.688},
{"x":1090,"seg":"R","w":0.218,"t100":0.455,"t150":0.762,"t200":1.098,"t250":1.452,"t300":1.758,"t350":2.088,"t400":2.375,"t450":2.670},
{"x":1060,"seg":"R","w":0.224,"t100":0.463,"t150":0.758,"t200":1.112,"t250":1.462,"t300":1.768,"t350":2.070,"t400":2.350,"t450":2.653},
{"x":1030,"seg":"R","w":0.218,"t100":0.454,"t150":0.754,"t200":1.105,"t250":1.455,"t300":1.762,"t350":2.060,"t400":2.338,"t450":2.668},
{"x":1000,"seg":"R","w":0.225,"t100":0.451,"t150":0.751,"t200":1.101,"t250":1.459,"t300":1.765,"t350":2.057,"t400":2.333,"t450":2.669}
],
"c_rules": [
{"kind":"peak","x":3737,"y":2.966,"y2":0.326},
{"kind":"peak","x":3659,"y":2.913,"y2":0.26},
{"kind":"peak","x":3594,"y":2.92,"y2":0.273},
{"kind":"peak","x":1636,"y":2.9,"y2":0.366},
{"kind":"peak","x":1392,"y":2.913,"y2":0.287},
{"kind":"peak","x":1214,"y":2.953,"y2":0.3},
{"kind":"peak","x":1094,"y":2.953,"y2":0.34},
{"kind":"bar","x":3969,"y":3.011,"y2":2.762},
{"kind":"frame","x":4000,"x2":4000,"y":0,"y2":3.414},
{"kind":"frame","x":1000,"x2":1000,"y":0,"y2":3.414},
{"kind":"frame","x":4000,"x2":1000,"y":3.414,"y2":3.414},
{"kind":"frame","x":4000,"x2":1000,"y":0,"y2":0}
],
"c_txt": [
{"kind":"temp","x":3475,"y":2.775,"label":"450°C"},
{"kind":"temp","x":3480,"y":2.462,"label":"400°C"},
{"kind":"temp","x":3480,"y":2.149,"label":"350°C"},
{"kind":"temp","x":3474,"y":1.863,"label":"300°C"},
{"kind":"temp","x":3480,"y":1.560,"label":"250°C"},
{"kind":"temp","x":3500,"y":1.188,"label":"200°C"},
{"kind":"temp","x":3491,"y":0.844,"label":"150°C"},
{"kind":"temp","x":3497,"y":0.525,"label":"100°C"},
{"kind":"temp","x":3526,"y":0.326,"label":"Without feed at 100°C"},
{"kind":"peak","x":3754,"y":2.98,"label":"3737"},
{"kind":"peak","x":3654,"y":3.006,"label":"3659"},
{"kind":"peak","x":3561,"y":2.927,"label":"3594"},
{"kind":"peak","x":1618,"y":2.972,"label":"1636"},
{"kind":"peak","x":1404,"y":2.98,"label":"1392"},
{"kind":"peak","x":1221,"y":3.006,"label":"1214"},
{"kind":"peak","x":1092,"y":3.02,"label":"1094"},
{"kind":"letter","x":3992,"y":3.285,"label":"(c)"},
{"kind":"scale","x":3943,"y":2.9,"label":"0.25"},
{"kind":"break","x":2335,"y":0,"label":"//"}
],
"d": [
{"x":4000,"seg":"L","w":0.141,"t100":0.353,"t150":0.671,"t200":0.961,"t250":1.352,"t300":1.614,"t350":1.883,"t400":2.140,"t450":2.419},
{"x":3950,"seg":"L","w":0.135,"t100":0.347,"t150":0.664,"t200":0.968,"t250":1.345,"t300":1.622,"t350":1.875,"t400":2.148,"t450":2.411},
{"x":3900,"seg":"L","w":0.144,"t100":0.356,"t150":0.673,"t200":0.958,"t250":1.355,"t300":1.612,"t350":1.886,"t400":2.137,"t450":2.422},
{"x":3870,"seg":"L","w":0.136,"t100":0.346,"t150":0.663,"t200":0.943,"t250":1.344,"t300":1.624,"t350":1.874,"t400":2.149,"t450":2.410},
{"x":3850,"seg":"L","w":0.157,"t100":0.355,"t150":0.674,"t200":0.958,"t250":1.354,"t300":1.613,"t350":1.885,"t400":2.138,"t450":2.420},
{"x":3820,"seg":"L","w":0.137,"t100":0.347,"t150":0.664,"t200":0.967,"t250":1.345,"t300":1.622,"t350":1.876,"t400":2.148,"t450":2.412},
{"x":3800,"seg":"L","w":0.143,"t100":0.355,"t150":0.673,"t200":0.947,"t250":1.355,"t300":1.611,"t350":1.885,"t400":2.138,"t450":2.421},
{"x":3770,"seg":"L","w":0.136,"t100":0.348,"t150":0.665,"t200":0.960,"t250":1.346,"t300":1.620,"t350":1.877,"t400":2.145,"t450":2.414},
{"x":3756,"seg":"L","w":0.149,"t100":0.361,"t150":0.679,"t200":0.973,"t250":1.360,"t300":1.626,"t350":1.891,"t400":2.152,"t450":2.427},
{"x":3746,"seg":"L","w":0.140,"t100":0.521,"t150":0.809,"t200":1.163,"t250":1.490,"t300":1.756,"t350":1.981,"t400":2.282,"t450":2.537},
{"x":3737,"seg":"L","w":0.141,"t100":0.681,"t150":0.934,"t200":1.362,"t250":1.597,"t300":1.858,"t350":2.081,"t400":2.412,"t450":2.632},
{"x":3730,"seg":"L","w":0.137,"t100":0.611,"t150":0.869,"t200":1.213,"t250":1.530,"t300":1.796,"t350":2.146,"t400":2.362,"t450":2.597},
{"x":3722,"seg":"L","w":0.143,"t100":0.571,"t150":0.829,"t200":1.083,"t250":1.490,"t300":1.766,"t350":1.901,"t400":2.332,"t450":2.582},
{"x":3718,"seg":"L","w":0.137,"t100":0.566,"t150":0.819,"t200":1.062,"t250":1.477,"t300":1.755,"t350":2.001,"t400":2.320,"t450":2.574},
{"x":3706,"seg":"L","w":0.142,"t100":0.600,"t150":0.888,"t200":1.247,"t250":1.535,"t300":1.812,"t350":2.054,"t400":2.382,"t450":2.609},
{"x":3690,"seg":"L","w":0.136,"t100":0.439,"t150":0.761,"t200":1.085,"t250":1.442,"t300":1.720,"t350":1.962,"t400":2.262,"t450":2.516},
{"x":3675,"seg":"L","w":0.141,"t100":0.381,"t150":0.709,"t200":1.013,"t250":1.400,"t300":1.676,"t350":1.931,"t400":2.222,"t450":2.487},
{"x":3658,"seg":"L","w":0.137,"t100":0.328,"t150":0.657,"t200":0.947,"t250":1.334,"t300":1.611,"t350":1.893,"t400":2.170,"t450":2.435},
{"x":3645,"seg":"L","w":0.143,"t100":0.471,"t150":0.769,"t200":1.083,"t250":1.430,"t300":1.706,"t350":1.961,"t400":2.242,"t450":2.497},
{"x":3630,"seg":"L","w":0.137,"t100":0.577,"t150":0.842,"t200":1.212,"t250":1.500,"t300":1.778,"t350":2.031,"t400":2.327,"t450":2.551},
{"x":3615,"seg":"L","w":0.142,"t100":0.393,"t150":0.750,"t200":1.005,"t250":1.442,"t300":1.685,"t350":1.893,"t400":2.193,"t450":2.516},
{"x":3596,"seg":"L","w":0.136,"t100":0.543,"t150":0.808,"t200":1.178,"t250":1.489,"t300":1.789,"t350":2.043,"t400":2.320,"t450":2.556},
{"x":3570,"seg":"L","w":0.141,"t100":0.393,"t150":0.704,"t200":1.039,"t250":1.408,"t300":1.743,"t350":1.939,"t400":2.227,"t450":2.493},
{"x":3545,"seg":"L","w":0.137,"t100":0.358,"t150":0.664,"t200":0.988,"t250":1.350,"t300":1.720,"t350":1.886,"t400":2.158,"t450":2.435},
{"x":3500,"seg":"L","w":0.142,"t100":0.354,"t150":0.672,"t200":0.961,"t250":1.345,"t300":1.685,"t350":1.876,"t400":2.152,"t450":2.417},
{"x":3450,"seg":"L","w":0.136,"t100":0.347,"t150":0.687,"t200":0.968,"t250":1.340,"t300":1.666,"t350":1.874,"t400":2.151,"t450":2.405},
{"x":3400,"seg":"L","w":0.141,"t100":0.356,"t150":0.674,"t200":0.959,"t250":1.338,"t300":1.644,"t350":1.871,"t400":2.147,"t450":2.407},
{"x":3300,"seg":"L","w":0.137,"t100":0.348,"t150":0.666,"t200":0.967,"t250":1.340,"t300":1.616,"t350":1.871,"t400":2.142,"t450":2.402},
{"x":3200,"seg":"L","w":0.142,"t100":0.355,"t150":0.673,"t200":0.959,"t250":1.342,"t300":1.593,"t350":1.869,"t400":2.142,"t450":2.397},
{"x":3100,"seg":"L","w":0.136,"t100":0.348,"t150":0.665,"t200":0.967,"t250":1.345,"t300":1.588,"t350":1.871,"t400":2.147,"t450":2.392},
{"x":3000,"seg":"L","w":0.141,"t100":0.355,"t150":0.673,"t200":0.960,"t250":1.342,"t300":1.586,"t350":1.869,"t400":2.147,"t450":2.389},
{"x":2950,"seg":"L","w":0.137,"t100":0.348,"t150":0.666,"t200":0.966,"t250":1.340,"t300":1.581,"t350":1.876,"t400":2.142,"t450":2.382},
{"x":2911,"seg":"L","w":0.142,"t100":0.355,"t150":0.672,"t200":0.960,"t250":1.334,"t300":1.598,"t350":1.893,"t400":2.181,"t450":2.435},
{"x":2880,"seg":"L","w":0.136,"t100":0.348,"t150":0.666,"t200":0.965,"t250":1.327,"t300":1.581,"t350":1.871,"t400":2.157,"t450":2.422},
{"x":2854,"seg":"L","w":0.141,"t100":0.356,"t150":0.674,"t200":0.981,"t250":1.366,"t300":1.634,"t350":1.927,"t400":2.216,"t450":2.482},
{"x":2835,"seg":"L","w":0.137,"t100":0.348,"t150":0.667,"t200":0.962,"t250":1.334,"t300":1.593,"t350":1.893,"t400":2.167,"t450":2.427},
{"x":2816,"seg":"L","w":0.142,"t100":0.355,"t150":0.672,"t200":0.968,"t250":1.350,"t300":1.616,"t350":1.911,"t400":2.193,"t450":2.452},
{"x":2780,"seg":"L","w":0.136,"t100":0.348,"t150":0.666,"t200":0.960,"t250":1.345,"t300":1.598,"t350":1.881,"t400":2.157,"t450":2.422},
{"x":2700,"seg":"L","w":0.141,"t100":0.355,"t150":0.673,"t200":0.966,"t250":1.350,"t300":1.606,"t350":1.865,"t400":2.152,"t450":2.417},
{"x":2600,"seg":"L","w":0.137,"t100":0.348,"t150":0.666,"t200":0.960,"t250":1.362,"t300":1.611,"t350":1.876,"t400":2.142,"t450":2.415},
{"x":2570,"seg":"L","w":0.142,"t100":0.355,"t150":0.672,"t200":0.966,"t250":1.360,"t300":1.604,"t350":1.904,"t400":2.170,"t450":2.435},
{"x":2530,"seg":"L","w":0.136,"t100":0.349,"t150":0.666,"t200":0.960,"t250":1.365,"t300":1.601,"t350":1.881,"t400":2.147,"t450":2.417},
{"x":2480,"seg":"L","w":0.141,"t100":0.354,"t150":0.671,"t200":0.965,"t250":1.368,"t300":1.593,"t350":1.874,"t400":2.147,"t450":2.422},
{"x":2217,"seg":"R","w":0.143,"t100":0.342,"t150":0.660,"t200":0.955,"t250":1.350,"t300":1.621,"t350":1.890,"t400":2.147,"t450":2.424},
{"x":2120,"seg":"R","w":0.138,"t100":0.336,"t150":0.655,"t200":0.950,"t250":1.345,"t300":1.612,"t350":1.896,"t400":2.150,"t450":2.412},
{"x":2057,"seg":"R","w":0.145,"t100":0.341,"t150":0.662,"t200":0.951,"t250":1.339,"t300":1.616,"t350":1.898,"t400":2.142,"t450":2.401},
{"x":1990,"seg":"R","w":0.140,"t100":0.335,"t150":0.657,"t200":0.948,"t250":1.334,"t300":1.625,"t350":1.902,"t400":2.152,"t450":2.405},
{"x":1931,"seg":"R","w":0.146,"t100":0.340,"t150":0.664,"t200":0.946,"t250":1.328,"t300":1.639,"t350":1.916,"t400":2.152,"t450":2.412},
{"x":1867,"seg":"R","w":0.139,"t100":0.337,"t150":0.660,"t200":0.950,"t250":1.350,"t300":1.650,"t350":1.925,"t400":2.160,"t450":2.419},
{"x":1804,"seg":"R","w":0.145,"t100":0.342,"t150":0.666,"t200":0.951,"t250":1.385,"t300":1.685,"t350":1.939,"t400":2.182,"t450":2.447},
{"x":1782,"seg":"R","w":0.140,"t100":0.336,"t150":0.669,"t200":0.970,"t250":1.408,"t300":1.720,"t350":1.974,"t400":2.205,"t450":2.482},
{"x":1773,"seg":"R","w":0.146,"t100":0.340,"t150":0.662,"t200":0.923,"t250":1.339,"t300":1.628,"t350":1.870,"t400":2.136,"t450":2.389},
{"x":1760,"seg":"R","w":0.141,"t100":0.338,"t150":0.669,"t200":0.970,"t250":1.385,"t300":1.720,"t350":1.939,"t400":2.216,"t450":2.436},
{"x":1754,"seg":"R","w":0.145,"t100":0.335,"t150":0.693,"t200":1.016,"t250":1.466,"t300":1.789,"t350":2.119,"t400":2.401,"t450":2.712},
{"x":1745,"seg":"R","w":0.139,"t100":0.342,"t150":0.676,"t200":0.970,"t250":1.385,"t300":1.639,"t350":1.985,"t400":2.274,"t450":2.528},
{"x":1735,"seg":"R","w":0.144,"t100":0.351,"t150":0.680,"t200":0.958,"t250":1.350,"t300":1.616,"t350":1.904,"t400":2.205,"t450":2.424},
{"x":1700,"seg":"R","w":0.143,"t100":0.381,"t150":0.693,"t200":0.974,"t250":1.339,"t300":1.605,"t350":1.893,"t400":2.170,"t450":2.401},
{"x":1650,"seg":"R","w":0.150,"t100":0.392,"t150":0.688,"t200":0.980,"t250":1.355,"t300":1.612,"t350":1.900,"t400":2.159,"t450":2.410},
{"x":1615,"seg":"R","w":0.157,"t100":0.397,"t150":0.704,"t200":0.993,"t250":1.374,"t300":1.639,"t350":1.916,"t400":2.182,"t450":2.424},
{"x":1575,"seg":"R","w":0.152,"t100":0.400,"t150":0.716,"t200":1.021,"t250":1.443,"t300":1.708,"t350":1.985,"t400":2.285,"t450":2.482},
{"x":1564,"seg":"R","w":0.160,"t100":0.404,"t150":0.727,"t200":1.028,"t250":1.466,"t300":1.754,"t350":2.020,"t400":2.320,"t450":2.551},
{"x":1556,"seg":"R","w":0.150,"t100":0.385,"t150":0.700,"t200":0.993,"t250":1.385,"t300":1.662,"t350":1.928,"t400":2.216,"t450":2.516},
{"x":1548,"seg":"R","w":0.158,"t100":0.365,"t150":0.690,"t200":0.985,"t250":1.392,"t300":1.668,"t350":1.945,"t400":2.262,"t450":2.412},
{"x":1539,"seg":"R","w":0.150,"t100":0.375,"t150":0.681,"t200":0.981,"t250":1.385,"t300":1.685,"t350":1.962,"t400":2.216,"t450":2.458},
{"x":1500,"seg":"R","w":0.162,"t100":0.358,"t150":0.669,"t200":0.935,"t250":1.328,"t300":1.651,"t350":1.939,"t400":2.182,"t450":2.447},
{"x":1450,"seg":"R","w":0.166,"t100":0.370,"t150":0.681,"t200":0.958,"t250":1.339,"t300":1.685,"t350":1.930,"t400":2.216,"t450":2.436},
{"x":1430,"seg":"R","w":0.185,"t100":0.372,"t150":0.693,"t200":0.970,"t250":1.350,"t300":1.651,"t350":1.928,"t400":2.262,"t450":2.458},
{"x":1415,"seg":"R","w":0.150,"t100":0.375,"t150":0.690,"t200":0.970,"t250":1.350,"t300":1.639,"t350":1.893,"t400":2.205,"t450":2.401},
{"x":1404,"seg":"R","w":0.155,"t100":0.381,"t150":0.739,"t200":1.028,"t250":1.443,"t300":1.766,"t350":2.032,"t400":2.366,"t450":2.597},
{"x":1390,"seg":"R","w":0.158,"t100":0.378,"t150":0.730,"t200":1.016,"t250":1.420,"t300":1.743,"t350":2.008,"t400":2.332,"t450":2.574},
{"x":1360,"seg":"R","w":0.152,"t100":0.381,"t150":0.720,"t200":1.004,"t250":1.397,"t300":1.685,"t350":1.939,"t400":2.285,"t450":2.516},
{"x":1320,"seg":"R","w":0.158,"t100":0.376,"t150":0.715,"t200":1.004,"t250":1.385,"t300":1.639,"t350":1.916,"t400":2.251,"t450":2.470},
{"x":1299,"seg":"R","w":0.155,"t100":0.374,"t150":0.720,"t200":1.011,"t250":1.397,"t300":1.639,"t350":1.951,"t400":2.274,"t450":2.505},
{"x":1260,"seg":"R","w":0.160,"t100":0.358,"t150":0.693,"t200":0.988,"t250":1.362,"t300":1.616,"t350":1.904,"t400":2.205,"t450":2.458},
{"x":1240,"seg":"R","w":0.154,"t100":0.352,"t150":0.688,"t200":0.974,"t250":1.343,"t300":1.605,"t350":1.898,"t400":2.170,"t450":2.424},
{"x":1223,"seg":"R","w":0.158,"t100":0.348,"t150":0.680,"t200":0.980,"t250":1.355,"t300":1.612,"t350":1.893,"t400":2.182,"t450":2.412},
{"x":1200,"seg":"R","w":0.157,"t100":0.346,"t150":0.674,"t200":0.988,"t250":1.385,"t300":1.639,"t350":1.928,"t400":2.216,"t450":2.436},
{"x":1173,"seg":"R","w":0.152,"t100":0.340,"t150":0.668,"t200":0.981,"t250":1.385,"t300":1.674,"t350":1.904,"t400":2.239,"t450":2.470},
{"x":1148,"seg":"R","w":0.156,"t100":0.335,"t150":0.669,"t200":0.978,"t250":1.385,"t300":1.651,"t350":1.939,"t400":2.216,"t450":2.412},
{"x":1110,"seg":"R","w":0.150,"t100":0.338,"t150":0.665,"t200":0.981,"t250":1.397,"t300":1.651,"t350":1.951,"t400":2.239,"t450":2.470},
{"x":1080,"seg":"R","w":0.148,"t100":0.335,"t150":0.674,"t200":0.981,"t250":1.397,"t300":1.644,"t350":1.985,"t400":2.262,"t450":2.528},
{"x":1072,"seg":"R","w":0.145,"t100":0.332,"t150":0.670,"t200":0.946,"t250":1.334,"t300":1.570,"t350":1.893,"t400":2.147,"t450":2.389},
{"x":1066,"seg":"R","w":0.140,"t100":0.328,"t150":0.681,"t200":1.039,"t250":1.482,"t300":1.789,"t350":2.128,"t400":2.332,"t450":2.701},
{"x":1055,"seg":"R","w":0.150,"t100":0.334,"t150":0.662,"t200":1.004,"t250":1.408,"t300":1.674,"t350":2.032,"t400":2.285,"t450":2.597},
{"x":1030,"seg":"R","w":0.146,"t100":0.330,"t150":0.668,"t200":0.993,"t250":1.397,"t300":1.662,"t350":1.997,"t400":2.251,"t450":2.539},
{"x":1000,"seg":"R","w":0.150,"t100":0.328,"t150":0.688,"t200":0.997,"t250":1.385,"t300":1.662,"t350":1.951,"t400":2.235,"t450":2.458}
],
"d_rules": [
{"kind":"peak","x":3737,"y":2.62,"y2":0.369},
{"kind":"peak","x":3665,"y":2.59,"y2":0.265},
{"kind":"peak","x":3597,"y":2.59,"y2":0.323},
{"kind":"peak","x":1758,"y":2.747,"y2":0.312},
{"kind":"peak","x":1566,"y":2.574,"y2":0.312},
{"kind":"peak","x":1404,"y":2.59,"y2":0.305},
{"kind":"peak","x":1306,"y":2.539,"y2":0.312},
{"kind":"peak","x":1068,"y":2.712,"y2":0.328},
{"kind":"bar","x":3965,"y":2.678,"y2":2.428}
],
"d_txt": [
{"kind":"temp","x":3485,"y":2.493,"label":"450°C"},
{"kind":"temp","x":3485,"y":2.228,"label":"400°C"},
{"kind":"temp","x":3468,"y":1.974,"label":"350°C"},
{"kind":"temp","x":3475,"y":1.754,"label":"300°C"},
{"kind":"temp","x":3479,"y":1.436,"label":"250°C"},
{"kind":"temp","x":3485,"y":1.066,"label":"200°C"},
{"kind":"temp","x":3485,"y":0.797,"label":"150°C"},
{"kind":"temp","x":3485,"y":0.450,"label":"100°C"},
{"kind":"temp","x":3481,"y":0.226,"label":"Without feed at 100°C"},
{"kind":"peak","x":3737,"y":2.632,"label":"3737"},
{"kind":"peak","x":3640,"y":2.597,"label":"3665"},
{"kind":"peak","x":3533,"y":2.608,"label":"3597"},
{"kind":"peak","x":1817,"y":2.608,"label":"1758"},
{"kind":"peak","x":1564,"y":2.608,"label":"1566"},
{"kind":"peak","x":1403,"y":2.608,"label":"1404"},
{"kind":"peak","x":1280,"y":2.597,"label":"1306"},
{"kind":"peak","x":1116,"y":2.608,"label":"1068"},
{"kind":"letter","x":3987,"y":2.805,"label":"(d)"},
{"kind":"scale","x":3939,"y":2.544,"label":"0.25"},
{"kind":"break","x":2350,"y":0,"label":"//"}
]
},
"columns": 2,
"bounds": "flush",
"spacing": {"row": 136, "column": 160},
"concat": [
{
 "width": 735, "height": 594,
 "encoding": {
  "x": {"field": "x", "type": "quantitative",
   "scale": {"domain": [4000, 2450, 2225, 1000], "range": [0, 403, 416.5, 735], "nice": false, "zero": false},
   "axis": {"title": "Wavenumber, cm⁻¹", "titlePadding": 14, "values": [4000,3750,3500,3250,3000,2750,2500,2000,1750,1500,1250,1000],
            "labelExpr": "datum.value % 500 === 0 ? datum.value : ''",
            "tickSize": {"condition": {"test": "datum.value % 500 === 0", "value": 9}, "value": 5},
            "labelPadding": 10, "labelFlush": false, "labelOverlap": false}},
  "y": {"field": "y", "type": "quantitative", "scale": {"domain": [0, 2.912], "nice": false, "zero": false},
   "axis": {"title": "Absorbance, a.u.", "labels": false, "ticks": false, "titlePadding": 18}}
 },
 "layer": [
  {"data": {"name": "a"}, "transform": [{"fold": ["w","t100","t150","t200","t250","t300","t350","t400","t450"], "as": ["series","y"]}],
   "mark": {"type": "line", "strokeWidth": 2.3},
   "encoding": {"color": {"field": "series", "type": "nominal", "legend": null,
     "scale": {"domain": ["w","t100","t150","t200","t250","t300","t350","t400","t450"], "range": ["#707070","#f03c3c","#1e5fe3","#2fa060","#a872e0","#c99500","#18c6c8","#7b4b46","#969619"]}},
    "detail": {"field": "seg"}}},
  {"data": {"name": "a_rules"}, "transform": [{"filter": "datum.kind === 'peak'"}], "mark": {"type": "rule", "color": "black", "strokeWidth": 2.3, "strokeDash": [5, 3]}, "encoding": {"y2": {"field": "y2"}}},
  {"data": {"name": "a_rules"}, "transform": [{"filter": "datum.kind === 'bar'"}], "mark": {"type": "rule", "color": "#ff0000", "strokeWidth": 3.5}, "encoding": {"y2": {"field": "y2"}}},
  {"data": {"name": "a_txt"}, "transform": [{"filter": "datum.kind === 'temp'"}], "mark": {"type": "text", "align": "left", "baseline": "middle", "fontSize": 30, "fontWeight": "bold", "color": "black"}, "encoding": {"text": {"field": "label"}}},
  {"data": {"name": "a_txt"}, "transform": [{"filter": "datum.kind === 'peak'"}], "mark": {"type": "text", "align": "left", "baseline": "middle", "angle": 270, "fontSize": 29, "color": "black"}, "encoding": {"text": {"field": "label"}}},
  {"data": {"name": "a_txt"}, "transform": [{"filter": "datum.kind === 'letter'"}], "mark": {"type": "text", "align": "left", "baseline": "middle", "fontSize": 31, "fontWeight": "bold", "color": "black"}, "encoding": {"text": {"field": "label"}}},
  {"data": {"name": "a_txt"}, "transform": [{"filter": "datum.kind === 'scale'"}], "mark": {"type": "text", "align": "left", "baseline": "middle", "fontSize": 24, "fontWeight": "bold", "color": "#ff0000"}, "encoding": {"text": {"field": "label"}}},
  {"data": {"name": "a_txt"}, "transform": [{"filter": "datum.kind === 'break'"}], "mark": {"type": "text", "align": "center", "baseline": "middle", "fontSize": 36, "color": "black"}, "encoding": {"text": {"field": "label"}}}
 ]
},
{
 "width": 724, "height": 587,
 "view": {"stroke": null},
 "encoding": {
  "x": {"field": "x", "type": "quantitative",
   "scale": {"domain": [4000, 2450, 2200, 1000], "range": [10, 405.3, 418.3, 724], "nice": false, "zero": false},
   "axis": {"title": "Wavenumber, cm⁻¹", "titlePadding": 5, "domain": false, "values": [4000,3750,3500,3250,3000,2750,2500,2000,1750,1500,1250,1000],
            "labelExpr": "datum.value % 500 === 0 ? datum.value : ''",
            "tickSize": {"condition": {"test": "datum.value % 500 === 0", "value": 9}, "value": 5},
            "labelPadding": 10, "labelFlush": false, "labelOverlap": false}},
  "y": {"field": "y", "type": "quantitative", "scale": {"domain": [0, 3.494], "nice": false, "zero": false},
   "axis": {"title": "Absorbance, a.u.", "domain": false, "labels": false, "ticks": false, "titlePadding": 8}}
 },
 "layer": [
  {"data": {"name": "b"}, "transform": [{"fold": ["w","t100","t150","t200","t250","t300","t350","t400","t450"], "as": ["series","y"]}],
   "mark": {"type": "line", "strokeWidth": 2.3},
   "encoding": {"color": {"field": "series", "type": "nominal", "legend": null,
     "scale": {"domain": ["w","t100","t150","t200","t250","t300","t350","t400","t450"], "range": ["#707070","#f03c3c","#1e5fe3","#2fa060","#a872e0","#c99500","#18c6c8","#7b4b46","#969619"]}},
    "detail": {"field": "seg"}}},
  {"data": {"name": "b_rules"}, "transform": [{"filter": "datum.kind === 'frame'"}], "mark": {"type": "rule", "color": "black", "strokeWidth": 2, "strokeCap": "square"}, "encoding": {"x2": {"field": "x2"}, "y2": {"field": "y2"}}},
  {"data": {"name": "b_rules"}, "transform": [{"filter": "datum.kind === 'peak'"}], "mark": {"type": "rule", "color": "black", "strokeWidth": 2.3, "strokeDash": [5, 3]}, "encoding": {"y2": {"field": "y2"}}},
  {"data": {"name": "b_rules"}, "transform": [{"filter": "datum.kind === 'bar'"}], "mark": {"type": "rule", "color": "#ff0000", "strokeWidth": 3.5}, "encoding": {"y2": {"field": "y2"}}},
  {"data": {"name": "b_txt"}, "transform": [{"filter": "datum.kind === 'temp'"}], "mark": {"type": "text", "align": "left", "baseline": "middle", "fontSize": 30, "fontWeight": "bold", "color": "black"}, "encoding": {"text": {"field": "label"}}},
  {"data": {"name": "b_txt"}, "transform": [{"filter": "datum.kind === 'peak'"}], "mark": {"type": "text", "align": "left", "baseline": "middle", "angle": 270, "fontSize": 29, "color": "black"}, "encoding": {"text": {"field": "label"}}},
  {"data": {"name": "b_txt"}, "transform": [{"filter": "datum.kind === 'letter'"}], "mark": {"type": "text", "align": "left", "baseline": "middle", "fontSize": 31, "fontWeight": "bold", "color": "black"}, "encoding": {"text": {"field": "label"}}},
  {"data": {"name": "b_txt"}, "transform": [{"filter": "datum.kind === 'scale'"}], "mark": {"type": "text", "align": "left", "baseline": "middle", "fontSize": 24, "fontWeight": "bold", "color": "#ff0000"}, "encoding": {"text": {"field": "label"}}},
  {"data": {"name": "b_txt"}, "transform": [{"filter": "datum.kind === 'break'"}], "mark": {"type": "text", "align": "center", "baseline": "middle", "fontSize": 36, "color": "black"}, "encoding": {"text": {"field": "label"}}}
 ]
},
{
 "width": 735, "height": 605,
 "view": {"stroke": null},
 "encoding": {
  "x": {"field": "x", "type": "quantitative",
   "scale": {"domain": [4000, 2450, 2218, 1000], "range": [0, 403.7, 417.4, 735], "nice": false, "zero": false},
   "axis": {"title": "Wavenumber, cm⁻¹", "titlePadding": 27, "domain": false, "values": [4000,3750,3500,3250,3000,2750,2500,2000,1750,1500,1250,1000],
            "labelExpr": "datum.value % 500 === 0 ? datum.value : ''",
            "tickSize": {"condition": {"test": "datum.value % 500 === 0", "value": 9}, "value": 5},
            "labelPadding": 10, "labelFlush": false, "labelOverlap": false}},
  "y": {"field": "y", "type": "quantitative", "scale": {"domain": [0, 3.477], "nice": false, "zero": false},
   "axis": {"title": "Absorbance, a.u.", "domain": false, "labels": false, "ticks": false, "titlePadding": 20}}
 },
 "layer": [
  {"data": {"name": "c"}, "transform": [{"fold": ["w","t100","t150","t200","t250","t300","t350","t400","t450"], "as": ["series","y"]}],
   "mark": {"type": "line", "strokeWidth": 2.3},
   "encoding": {"color": {"field": "series", "type": "nominal", "legend": null,
     "scale": {"domain": ["w","t100","t150","t200","t250","t300","t350","t400","t450"], "range": ["#707070","#f03c3c","#1e5fe3","#2fa060","#a872e0","#c99500","#18c6c8","#7b4b46","#969619"]}},
    "detail": {"field": "seg"}}},
  {"data": {"name": "c_rules"}, "transform": [{"filter": "datum.kind === 'frame'"}], "mark": {"type": "rule", "color": "black", "strokeWidth": 2, "strokeCap": "square"}, "encoding": {"x2": {"field": "x2"}, "y2": {"field": "y2"}}},
  {"data": {"name": "c_rules"}, "transform": [{"filter": "datum.kind === 'peak'"}], "mark": {"type": "rule", "color": "black", "strokeWidth": 2.3, "strokeDash": [5, 3]}, "encoding": {"y2": {"field": "y2"}}},
  {"data": {"name": "c_rules"}, "transform": [{"filter": "datum.kind === 'bar'"}], "mark": {"type": "rule", "color": "#ff0000", "strokeWidth": 3.5}, "encoding": {"y2": {"field": "y2"}}},
  {"data": {"name": "c_txt"}, "transform": [{"filter": "datum.kind === 'temp'"}], "mark": {"type": "text", "align": "left", "baseline": "middle", "fontSize": 30, "fontWeight": "bold", "color": "black"}, "encoding": {"text": {"field": "label"}}},
  {"data": {"name": "c_txt"}, "transform": [{"filter": "datum.kind === 'peak'"}], "mark": {"type": "text", "align": "left", "baseline": "middle", "angle": 270, "fontSize": 29, "color": "black"}, "encoding": {"text": {"field": "label"}}},
  {"data": {"name": "c_txt"}, "transform": [{"filter": "datum.kind === 'letter'"}], "mark": {"type": "text", "align": "left", "baseline": "middle", "fontSize": 31, "fontWeight": "bold", "color": "black"}, "encoding": {"text": {"field": "label"}}},
  {"data": {"name": "c_txt"}, "transform": [{"filter": "datum.kind === 'scale'"}], "mark": {"type": "text", "align": "left", "baseline": "middle", "fontSize": 24, "fontWeight": "bold", "color": "#ff0000"}, "encoding": {"text": {"field": "label"}}},
  {"data": {"name": "c_txt"}, "transform": [{"filter": "datum.kind === 'break'"}], "mark": {"type": "text", "align": "center", "baseline": "middle", "fontSize": 36, "color": "black"}, "encoding": {"text": {"field": "label"}}}
 ]
},
{
 "width": 734, "height": 583,
 "encoding": {
  "x": {"field": "x", "type": "quantitative",
   "scale": {"domain": [4000, 2480, 2217, 1000], "range": [0, 401.3, 412, 734], "nice": false, "zero": false},
   "axis": {"title": "Wavenumber, cm⁻¹", "titlePadding": 5, "values": [4000,3750,3500,3250,3000,2750,2500,2000,1750,1500,1250,1000],
            "labelExpr": "datum.value % 500 === 0 ? datum.value : ''",
            "tickSize": {"condition": {"test": "datum.value % 500 === 0", "value": 9}, "value": 5},
            "labelPadding": 10, "labelFlush": false, "labelOverlap": false}},
  "y": {"field": "y", "type": "quantitative", "scale": {"domain": [0, 2.915], "nice": false, "zero": false},
   "axis": {"title": "Absorbance, a.u.", "labels": false, "ticks": false, "titlePadding": 20}}
 },
 "layer": [
  {"data": {"name": "d"}, "transform": [{"fold": ["w","t100","t150","t200","t250","t300","t350","t400","t450"], "as": ["series","y"]}],
   "mark": {"type": "line", "strokeWidth": 2.3},
   "encoding": {"color": {"field": "series", "type": "nominal", "legend": null,
     "scale": {"domain": ["w","t100","t150","t200","t250","t300","t350","t400","t450"], "range": ["#707070","#f03c3c","#1e5fe3","#2fa060","#a872e0","#c99500","#18c6c8","#7b4b46","#969619"]}},
    "detail": {"field": "seg"}}},
  {"data": {"name": "d_rules"}, "transform": [{"filter": "datum.kind === 'peak'"}], "mark": {"type": "rule", "color": "black", "strokeWidth": 2.3, "strokeDash": [5, 3]}, "encoding": {"y2": {"field": "y2"}}},
  {"data": {"name": "d_rules"}, "transform": [{"filter": "datum.kind === 'bar'"}], "mark": {"type": "rule", "color": "#ff0000", "strokeWidth": 3.5}, "encoding": {"y2": {"field": "y2"}}},
  {"data": {"name": "d_txt"}, "transform": [{"filter": "datum.kind === 'temp'"}], "mark": {"type": "text", "align": "left", "baseline": "middle", "fontSize": 30, "fontWeight": "bold", "color": "black"}, "encoding": {"text": {"field": "label"}}},
  {"data": {"name": "d_txt"}, "transform": [{"filter": "datum.kind === 'peak'"}], "mark": {"type": "text", "align": "left", "baseline": "middle", "angle": 270, "fontSize": 28, "color": "black"}, "encoding": {"text": {"field": "label"}}},
  {"data": {"name": "d_txt"}, "transform": [{"filter": "datum.kind === 'letter'"}], "mark": {"type": "text", "align": "left", "baseline": "middle", "fontSize": 31, "fontWeight": "bold", "color": "black"}, "encoding": {"text": {"field": "label"}}},
  {"data": {"name": "d_txt"}, "transform": [{"filter": "datum.kind === 'scale'"}], "mark": {"type": "text", "align": "left", "baseline": "middle", "fontSize": 24, "fontWeight": "bold", "color": "#ff0000"}, "encoding": {"text": {"field": "label"}}},
  {"data": {"name": "d_txt"}, "transform": [{"filter": "datum.kind === 'break'"}], "mark": {"type": "text", "align": "center", "baseline": "middle", "fontSize": 36, "color": "black"}, "encoding": {"text": {"field": "label"}}}
 ]
}
]
}
